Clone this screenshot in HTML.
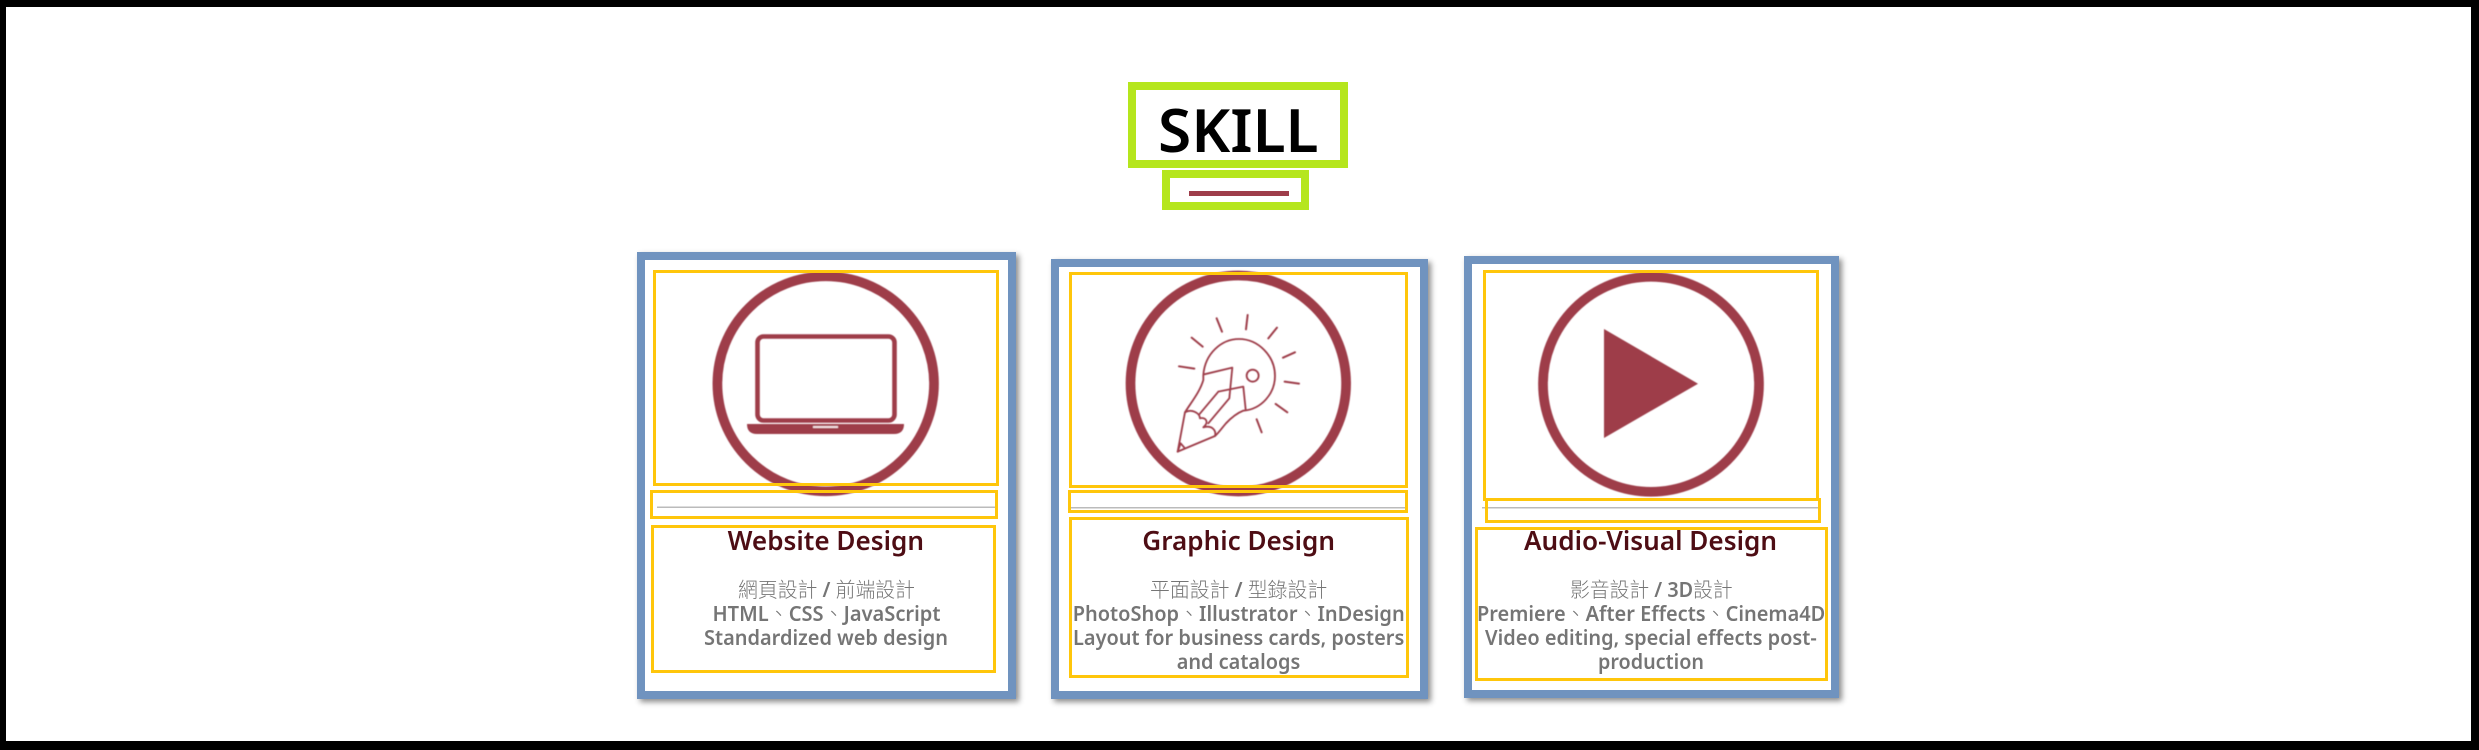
<!DOCTYPE html>
<html lang="zh-TW">
<head>
<meta charset="utf-8">
<title>Skill</title>
<style>
html,body{margin:0;padding:0;background:#fff;width:2479px;height:750px;overflow:hidden}
svg{display:block;position:absolute;left:0;top:0}
text{font-family:"Noto Sans","WenQuanYi Zen Hei","Liberation Sans","Noto Sans CJK TC",sans-serif;font-weight:600}
.title{font-size:26px;fill:#4e0d14}
.body{font-size:20.5px;fill:#757575}
.cjk{font-family:"Noto Sans CJK TC","WenQuanYi Zen Hei",sans-serif;font-weight:300}
.y{fill:none;stroke:#ffc60b;stroke-width:3}
.g{fill:none;stroke:#b5e61d;stroke-width:8}
.ic{fill:none;stroke:#9e3d4a}
</style>
</head>
<body>
<svg width="2479" height="750" viewBox="0 0 2479 750">
<defs>
<filter id="sh" x="-10%" y="-10%" width="125%" height="125%"><feDropShadow dx="3" dy="3" stdDeviation="3" flood-color="#000" flood-opacity=".45"/></filter>
<filter id="soft" x="-5%" y="-5%" width="110%" height="110%"><feGaussianBlur stdDeviation=".45"/></filter>
</defs>
<path d="M0 0H2479V750H0ZM6 7V741H2471V7Z" fill="#000" fill-rule="evenodd"/>

<rect class="g" x="1132" y="86" width="212" height="78"/>
<text x="1158" y="152" font-size="60" textLength="160.5" lengthAdjust="spacingAndGlyphs" fill="#000">SKILL</text>
<rect class="g" x="1166" y="174" width="139" height="32"/>
<rect x="1189" y="191" width="100" height="5" fill="#9e3d4a"/>

<!-- Card 1 -->
<g>
<rect x="641" y="256" width="371" height="439" fill="#fff" stroke="#6f93bf" stroke-width="8" filter="url(#sh)"/>
<g filter="url(#soft)">
<ellipse class="ic" cx="825.7" cy="383.8" rx="108.3" ry="107.5" stroke-width="9.7"/>
<g>
<rect class="ic" x="757.5" y="336.5" width="137" height="84" rx="6" stroke-width="4.6"/>
<path d="M747 424H904Q904 434 894 434H757Q747 434 747 424Z" fill="#9e3d4a"/>
<rect x="813" y="426" width="25" height="2" fill="#f3dfe2"/>
</g>
</g>
<rect class="y" x="654.5" y="271.5" width="343" height="213"/>
<rect x="657" y="506.5" width="338" height="1.5" fill="#bbb"/>
<rect class="y" x="651.5" y="491.5" width="345" height="26"/>
<rect class="y" x="652.5" y="526.5" width="342" height="145"/>
<text class="title" x="727.6" y="550" textLength="196.4" lengthAdjust="spacingAndGlyphs">Website Design</text>
<text class="body" x="738" y="597" textLength="177" lengthAdjust="spacingAndGlyphs"><tspan class="cjk">網頁設計</tspan> / <tspan class="cjk">前端設計</tspan></text>
<text class="body" x="712.5" y="621" textLength="228" lengthAdjust="spacingAndGlyphs">HTML<tspan class="cjk">、</tspan>CSS<tspan class="cjk">、</tspan>JavaScript</text>
<text class="body" x="704" y="645" textLength="244" lengthAdjust="spacingAndGlyphs">Standardized web design</text>
</g>

<!-- Card 2 -->
<g>
<rect x="1055" y="263" width="369" height="432" fill="#fff" stroke="#6f93bf" stroke-width="8" filter="url(#sh)"/>
<g filter="url(#soft)">
<ellipse class="ic" cx="1238.3" cy="383.5" rx="107.8" ry="108" stroke-width="9.7"/>
<g transform="translate(1040 250) scale(.3333)" fill="none" stroke="#9e3d4a" stroke-width="5.5" stroke-linejoin="round" stroke-linecap="round">
<path d="M530 205L546 245M623 195L618 238M711 233L685 265M765 307L729 323M777 401L734 395M742 487L707 462M665 547L650 508M488 290L455 263M463 356L417 349" stroke-width="6"/>
<path d="M490 375C495 310 545 267 597 267C655 267 705 318 705 378C705 430 665 478 610 482C590 490 575 502 558 520C545 535 535 550 525 558L413 605L435 487C455 455 480 425 490 390Z"/>
<path d="M493 373L577 353L568 445L505 520M535 425L610 410L617 478M535 425L478 493"/>
<path d="M435 487C455 475 480 490 480 505C495 500 510 515 490 532C515 525 530 540 525 558"/>
<path d="M413 605L422 580L433 593"/>
<circle cx="638" cy="377" r="18"/>
</g>
</g>
<rect class="y" x="1070.5" y="273.5" width="336" height="213"/>
<rect x="1071" y="507" width="334" height="1.5" fill="#bbb"/>
<rect class="y" x="1069.5" y="491.5" width="337" height="20"/>
<rect class="y" x="1070.5" y="518.5" width="337" height="158"/>
<text class="title" x="1142.3" y="550" textLength="192.7" lengthAdjust="spacingAndGlyphs">Graphic Design</text>
<text class="body" x="1150" y="597" textLength="177.3" lengthAdjust="spacingAndGlyphs"><tspan class="cjk">平面設計</tspan> / <tspan class="cjk">型錄設計</tspan></text>
<text class="body" x="1072.7" y="621" textLength="332" lengthAdjust="spacingAndGlyphs">PhotoShop<tspan class="cjk">、</tspan>Illustrator<tspan class="cjk">、</tspan>InDesign</text>
<text class="body" x="1073" y="645" textLength="331.3" lengthAdjust="spacingAndGlyphs">Layout for business cards, posters</text>
<text class="body" x="1176.7" y="669" textLength="123.6" lengthAdjust="spacingAndGlyphs">and catalogs</text>
</g>

<!-- Card 3 -->
<g>
<rect x="1468" y="260" width="367" height="434" fill="#fff" stroke="#6f93bf" stroke-width="8" filter="url(#sh)"/>
<g filter="url(#soft)">
<ellipse class="ic" cx="1651" cy="384.3" rx="108" ry="107.5" stroke-width="9.7"/>
<polygon points="1604,329 1604,438 1698,383.7" fill="#9e3d4a"/>
</g>
<rect x="1482" y="507" width="338" height="1.5" fill="#bbb"/>
<rect class="y" x="1484.5" y="271.5" width="333" height="228"/>
<rect class="y" x="1486.5" y="499.5" width="333" height="22"/>
<rect class="y" x="1476.5" y="528.5" width="350" height="151"/>
<text class="title" x="1524" y="550" textLength="253" lengthAdjust="spacingAndGlyphs">Audio-Visual Design</text>
<text class="body" x="1570" y="597" textLength="162.7" lengthAdjust="spacingAndGlyphs"><tspan class="cjk">影音設計</tspan> / 3D<tspan class="cjk">設計</tspan></text>
<text class="body" x="1477" y="621" textLength="348.3" lengthAdjust="spacingAndGlyphs">Premiere<tspan class="cjk">、</tspan>After Effects<tspan class="cjk">、</tspan>Cinema4D</text>
<text class="body" x="1485" y="645" textLength="331.7" lengthAdjust="spacingAndGlyphs">Video editing, special effects post-</text>
<text class="body" x="1598" y="669" textLength="106" lengthAdjust="spacingAndGlyphs">production</text>
</g>
</svg>
</body>
</html>
